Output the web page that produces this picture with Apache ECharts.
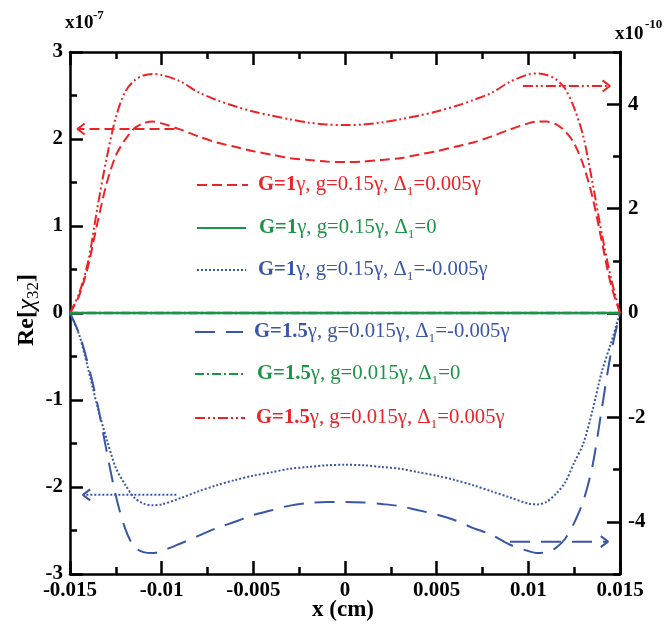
<!DOCTYPE html>
<html><head><meta charset="utf-8">
<script src="https://cdn.jsdelivr.net/npm/echarts@6/dist/echarts.min.js"></script>
<style>html,body{margin:0;padding:0;background:#fff}#c{width:665px;height:627px}</style>
</head><body><div id="c"></div>
<script>
// ---- data ----
const xValues = [-0.015,-0.0145,-0.014,-0.0135,-0.013,-0.0125,-0.012,-0.0115,-0.011,-0.0105,-0.01,
  -0.009,-0.008,-0.007,-0.006,-0.005,-0.004,-0.003,-0.002,-0.001,0,
  0.001,0.002,0.003,0.004,0.005,0.006,0.007,0.008,0.009,
  0.01,0.0105,0.011,0.0115,0.012,0.0125,0.013,0.0135,0.014,0.0145,0.015];
// left axis (x10^-7)
const g1Pos = [0,0.2,0.55,1.04,1.49,1.81,1.99,2.12,2.18,2.2,2.18,
  2.11,2.03,1.96,1.91,1.86,1.82,1.78,1.76,1.74,1.735,
  1.74,1.76,1.78,1.82,1.86,1.91,1.96,2.03,2.11,
  2.18,2.2,2.2,2.17,2.09,1.95,1.7,1.33,0.83,0.33,0];
const g1Zero = xValues.map(() => 0);
const g1Neg = [0,-0.25,-0.65,-1.08,-1.45,-1.78,-1.97,-2.12,-2.19,-2.21,-2.2,
  -2.13,-2.05,-1.98,-1.92,-1.87,-1.83,-1.79,-1.77,-1.75,-1.745,
  -1.75,-1.77,-1.79,-1.83,-1.87,-1.92,-1.98,-2.05,-2.12,
  -2.19,-2.2,-2.17,-2.08,-1.95,-1.72,-1.5,-1.12,-0.68,-0.35,0];
// right axis (x10^-10)
const g15Neg = [0,-0.4,-1.0,-1.75,-2.65,-3.5,-4.12,-4.48,-4.58,-4.6,-4.56,
  -4.42,-4.27,-4.12,-4.0,-3.87,-3.78,-3.69,-3.64,-3.62,-3.62,
  -3.63,-3.66,-3.7,-3.78,-3.86,-3.97,-4.12,-4.25,-4.44,
  -4.56,-4.6,-4.58,-4.5,-4.33,-4.02,-3.6,-2.93,-1.85,-0.78,0];
const g15Zero = xValues.map(() => 0);
const g15Pos = [0,0.38,1.0,2.03,2.97,3.75,4.23,4.45,4.55,4.58,4.56,
  4.44,4.23,4.08,3.96,3.86,3.78,3.71,3.65,3.61,3.6,
  3.61,3.65,3.71,3.78,3.86,3.96,4.08,4.22,4.43,
  4.57,4.59,4.56,4.48,4.3,3.93,3.38,2.5,1.53,0.68,0];
const rightTickValues = [-4,-2,0,2,4];

// arrows (annotations): y value, shaft start, tip
const arrowAxis = [0, 1, 0, 1];
const arrowY    = [2.115, 4.35, -2.09, -4.38];
const arrowFrom = [-0.0093, 0.0097, -0.0092, 0.009];
const arrowTip  = [-0.0146, 0.01445, -0.0143, 0.01435];

const RED = '#ec2227', GREEN = '#1b9446', BLUE = '#3a56a6';
const FONT = 'Liberation Serif';
const DASH = [10,5], DOT = [2,2], LONG = [20,11], DASHDOT = [9,3,2,3], DASHDOTDOT = [10,3,2,3,2,3];
const arrowColor = [RED, RED, BLUE, BLUE];
const arrowDash = [DASH, DASHDOTDOT, DOT, LONG];

const pts = arr => xValues.map((x, i) => [x, arr[i]]);

const chart = echarts.init(document.getElementById('c'), null, {renderer: 'canvas'});

const axisLineStyle = {color: '#000', width: 2.5};
const tickStyle = {color: '#000', width: 2.5};
const labelStyle = {color: '#000', fontFamily: FONT, fontWeight: 'bold', fontSize: 21};

function curve(data, yIdx, color, dash, width, z) {
  return {type: 'line', xAxisIndex: 0, yAxisIndex: yIdx, data: pts(data), symbol: 'none',
    smooth: 0.3, lineStyle: {color: color, width: width, type: dash}, z: z, silent: true};
}

const series = [
  curve(g1Pos, 0, RED, DASH, 2, 3),
  curve(g1Neg, 0, BLUE, DOT, 2, 3),
  curve(g15Neg, 1, BLUE, LONG, 2, 3),
  curve(g15Pos, 1, RED, DASHDOTDOT, 2, 3),
  curve(g15Zero, 1, GREEN, DASHDOT, 2.5, 4),
  curve(g1Zero, 0, GREEN, 'solid', 2.5, 5)
];

arrowY.forEach((y, i) => {
  const ax = arrowAxis[i];
  const dir = Math.sign(arrowFrom[i] - arrowTip[i]);
  const depth = 0.0004;
  const h = ax === 0 ? 5.5 / 87 : 5.5 / 52;
  series.push({type: 'line', yAxisIndex: ax, symbol: 'none', silent: true, z: 3,
    data: [[arrowFrom[i], y], [arrowTip[i], y]],
    lineStyle: {color: arrowColor[i], width: 2, type: arrowDash[i]}});
  series.push({type: 'line', yAxisIndex: ax, symbol: 'none', silent: true, z: 3,
    data: [[arrowTip[i] + dir * depth, y + h], [arrowTip[i], y], [arrowTip[i] + dir * depth, y - h]],
    lineStyle: {color: arrowColor[i], width: 2, type: 'solid'}});
});

function xAxisDef(pos, showLabel) {
  return {type: 'value', position: pos, min: -0.015, max: 0.015, interval: 0.005,
    axisLine: {show: true, onZero: false, lineStyle: axisLineStyle},
    axisTick: {show: true, inside: true, length: 13, lineStyle: tickStyle},
    minorTick: {show: true, splitNumber: 2, length: 7, lineStyle: tickStyle},
    splitLine: {show: false},
    axisLabel: Object.assign({show: showLabel, margin: 6,
      formatter: v => String(parseFloat(v.toFixed(4)))}, labelStyle)};
}

const legendEntries = [
  {y: 185, tx: 258, lx1: 197, lx2: 248, color: RED, dash: DASH, g: 'G=1', rest: 'γ, g=0.15γ, Δ', tail: '=0.005γ'},
  {y: 228, tx: 259, lx1: 197, lx2: 246, color: GREEN, dash: null, g: 'G=1', rest: 'γ, g=0.15γ, Δ', tail: '=0'},
  {y: 270, tx: 258, lx1: 197, lx2: 246, color: BLUE, dash: DOT, g: 'G=1', rest: 'γ, g=0.15γ, Δ', tail: '=-0.005γ'},
  {y: 332, tx: 254, lx1: 195, lx2: 243, color: BLUE, dash: LONG, g: 'G=1.5', rest: 'γ, g=0.015γ, Δ', tail: '=-0.005γ'},
  {y: 374, tx: 257, lx1: 195, lx2: 245, color: GREEN, dash: DASHDOT, g: 'G=1.5', rest: 'γ, g=0.015γ, Δ', tail: '=0'},
  {y: 418, tx: 256, lx1: 195, lx2: 245, color: RED, dash: DASHDOTDOT, g: 'G=1.5', rest: 'γ, g=0.015γ, Δ', tail: '=0.005γ'}
];

const LF = 20.7;
const graphics = [];
legendEntries.forEach(e => {
  graphics.push({type: 'line', silent: true, shape: {x1: e.lx1, y1: e.y, x2: e.lx2, y2: e.y},
    style: {stroke: e.color, lineWidth: 2, lineDash: e.dash || null}});
  graphics.push({type: 'text', silent: true, x: e.tx, y: e.y,
    style: {text: '{b|' + e.g + '}{n|' + e.rest + '}{s|1}{n|' + e.tail + '}',
      fill: e.color, verticalAlign: 'middle', align: 'left',
      fontFamily: FONT, fontSize: LF,
      rich: {
        b: {fontFamily: FONT, fontSize: LF, fontWeight: 'bold', fill: e.color, lineHeight: 22, verticalAlign: 'middle'},
        n: {fontFamily: FONT, fontSize: LF, fill: e.color, lineHeight: 22, verticalAlign: 'middle'},
        s: {fontFamily: FONT, fontSize: 13.5, fill: e.color, padding: [13, 0, 0, 0], verticalAlign: 'bottom'}
      }}});
});
// exponents
graphics.push({type: 'text', silent: true, x: 65, y: 23, style: {text: 'x10', fontFamily: FONT, fontWeight: 'bold', fontSize: 19, fill: '#000', verticalAlign: 'middle'}});
graphics.push({type: 'text', silent: true, x: 93, y: 16, style: {text: '-7', fontFamily: FONT, fontWeight: 'bold', fontSize: 13, fill: '#000', verticalAlign: 'middle'}});
graphics.push({type: 'text', silent: true, x: 615, y: 34, style: {text: 'x10', fontFamily: FONT, fontWeight: 'bold', fontSize: 19, fill: '#000', verticalAlign: 'middle'}});
graphics.push({type: 'text', silent: true, x: 645, y: 25, style: {text: '-10', fontFamily: FONT, fontWeight: 'bold', fontSize: 13, fill: '#000', verticalAlign: 'middle'}});
// axis titles
graphics.push({type: 'text', silent: true, x: 343, y: 610, style: {text: 'x (cm)', fontFamily: FONT, fontWeight: 'bold', fontSize: 23, fill: '#000', align: 'center', verticalAlign: 'middle'}});
graphics.push({type: 'text', silent: true, x: 27, y: 310, rotation: Math.PI / 2,
  style: {text: '{b|Re[}{i|χ}{s|32}{b|]}', align: 'center', verticalAlign: 'middle', fill: '#000',
    fontFamily: FONT, fontSize: 24,
    rich: {
      b: {fontFamily: FONT, fontSize: 24, fontWeight: 'bold', fill: '#000', lineHeight: 24, verticalAlign: 'middle'},
      i: {fontFamily: FONT, fontSize: 25, fontStyle: 'italic', fill: '#000', lineHeight: 24, verticalAlign: 'middle'},
      s: {fontFamily: FONT, fontSize: 17, fill: '#000', padding: [13, 0, 0, 0], verticalAlign: 'bottom'}
    }}});

chart.setOption({
  animation: false,
  backgroundColor: '#fff',
  grid: {left: 70, right: 45, top: 52, bottom: 53, containLabel: false},
  xAxis: [xAxisDef('bottom', true), xAxisDef('top', false)],
  yAxis: [
    {type: 'value', position: 'left', min: -3, max: 3, interval: 1,
      axisLine: {show: true, onZero: false, lineStyle: axisLineStyle},
      axisTick: {show: true, inside: true, length: 13, lineStyle: tickStyle},
      minorTick: {show: true, splitNumber: 2, length: 7, lineStyle: tickStyle},
      splitLine: {show: false},
      axisLabel: Object.assign({margin: 7}, labelStyle)},
    {type: 'value', position: 'right', min: -5, max: 5, interval: 1,
      axisLine: {show: true, onZero: false, lineStyle: axisLineStyle},
      axisTick: {show: true, inside: true, length: 13, lineStyle: tickStyle, customValues: rightTickValues},
      splitLine: {show: false},
      axisLabel: Object.assign({margin: 8, customValues: rightTickValues,
        formatter: v => (Math.round(v) % 2 === 0 ? String(Math.round(v)) : '')}, labelStyle)},
    {type: 'value', position: 'right', min: -5, max: 5, interval: 1,
      axisLine: {show: true, onZero: false, lineStyle: axisLineStyle},
      axisTick: {show: true, inside: true, length: 7, lineStyle: tickStyle},
      splitLine: {show: false},
      axisLabel: {show: false}}
  ],
  series: series,
  graphic: graphics
});
</script></body></html>
